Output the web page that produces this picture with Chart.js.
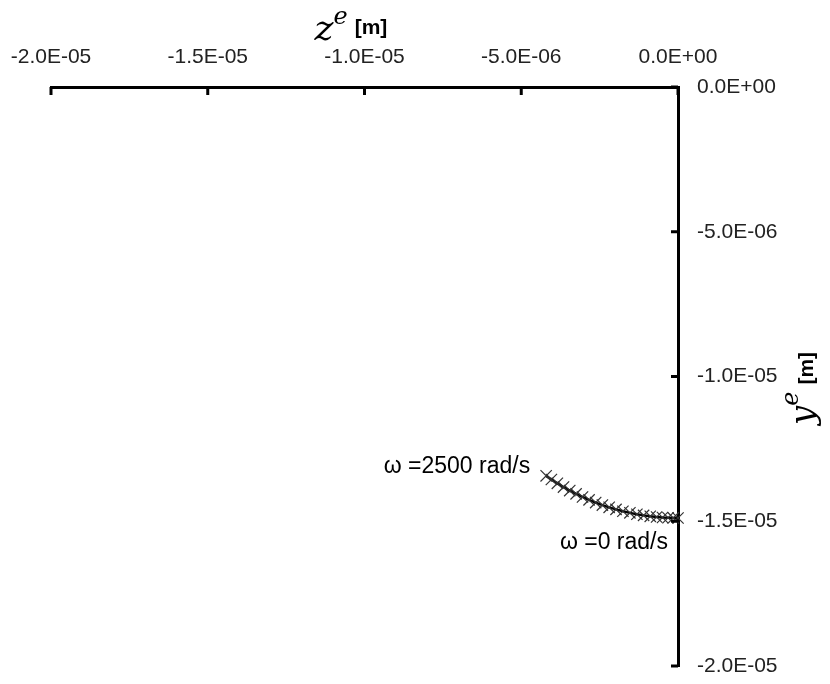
<!DOCTYPE html>
<html>
<head>
<meta charset="utf-8">
<script src="https://cdn.jsdelivr.net/npm/chart.js@4.4.0/dist/chart.umd.min.js"></script>
<style>
  html, body { margin: 0; padding: 0; background: #fff; }
  #grafico { display: block; }
</style>
</head>
<body>
<canvas id="grafico" width="830" height="684"></canvas>
<script>
// Trayectoria del centro elástico: z^e, y^e [m], desde ω = 0 hasta ω = 2500 rad/s
const zE = [0, -0.152e-6, -0.317e-6, -0.494e-6, -0.683e-6, -0.885e-6, -1.098e-6, -1.311e-6,
            -1.534e-6, -1.757e-6, -1.977e-6, -2.196e-6, -2.412e-6, -2.626e-6, -2.837e-6,
            -3.046e-6, -3.251e-6, -3.453e-6, -3.652e-6, -3.848e-6, -4.039e-6, -4.206e-6];
const yE = [-14.888e-6, -14.886e-6, -14.880e-6, -14.870e-6, -14.853e-6, -14.829e-6, -14.797e-6,
            -14.759e-6, -14.710e-6, -14.654e-6, -14.590e-6, -14.519e-6, -14.441e-6, -14.355e-6,
            -14.262e-6, -14.162e-6, -14.054e-6, -13.940e-6, -13.819e-6, -13.691e-6, -13.557e-6,
            -13.432e-6];

const xTickValues = [-2e-5, -1.5e-5, -1e-5, -5e-6, 0];
const xTickLabels = ['-2.0E-05', '-1.5E-05', '-1.0E-05', '-5.0E-06', '0.0E+00'];
const yTickValues = [0, -5e-6, -1e-5, -1.5e-5, -2e-5];
const yTickLabels = ['0.0E+00', '-5.0E-06', '-1.0E-05', '-1.5E-05', '-2.0E-05'];

const etiquetaInicio = 'ω =0 rad/s';
const etiquetaFin = 'ω =2500 rad/s';

const fuenteEjes = '"Liberation Sans", Arial, sans-serif';
const fuenteMat = '"DejaVu Serif", "Liberation Serif", serif';

// Dibuja un texto compuesto (letra cursiva, superíndice, unidades) desde el origen actual
function dibujarTitulo(ctx, partes) {
    let cursor = 0;
    partes.forEach(p => {
        ctx.font = p.font;
        ctx.fillText(p.text, cursor, p.dy);
        cursor += ctx.measureText(p.text).width + (p.gap || 0);
    });
}

const pluginEjes = {
    id: 'pluginEjes',
    afterDraw(chart) {
        const { ctx, chartArea, scales: { x, y } } = chart;
        ctx.save();

        // marcas de división hacia el interior del gráfico
        ctx.strokeStyle = '#000';
        ctx.lineWidth = 3;
        xTickValues.forEach(v => {
            const px = x.getPixelForValue(v);
            ctx.beginPath();
            ctx.moveTo(px, chartArea.top);
            ctx.lineTo(px, chartArea.top + 8);
            ctx.stroke();
        });
        yTickValues.forEach(v => {
            const py = y.getPixelForValue(v);
            ctx.beginPath();
            ctx.moveTo(chartArea.right, py);
            ctx.lineTo(chartArea.right - 7, py);
            ctx.stroke();
        });

        // etiquetas de los extremos de la trayectoria
        ctx.fillStyle = '#000';
        ctx.font = '23px ' + fuenteEjes;
        ctx.textBaseline = 'alphabetic';
        ctx.textAlign = 'right';
        const n = zE.length - 1;
        ctx.fillText(etiquetaFin, x.getPixelForValue(zE[n]) - 16, y.getPixelForValue(yE[n]) - 3);
        ctx.fillText(etiquetaInicio, x.getPixelForValue(zE[0]) - 10, y.getPixelForValue(yE[0]) + 31);

        // título del eje horizontal: z^e [m]
        ctx.textAlign = 'left';
        ctx.save();
        ctx.translate((chartArea.left + chartArea.right) / 2 - 50, 40);
        dibujarTitulo(ctx, [
            { text: 'z', font: 'italic 36px ' + fuenteMat, dy: 0 },
            { text: 'e', font: 'italic 24px ' + fuenteMat, dy: -16, gap: 7 },
            { text: '[m]', font: 'bold 21px ' + fuenteEjes, dy: -6 }
        ]);
        ctx.restore();

        // título del eje vertical: y^e [m], leído de abajo hacia arriba
        ctx.save();
        ctx.translate(814, 425);
        ctx.rotate(-Math.PI / 2);
        dibujarTitulo(ctx, [
            { text: 'y', font: 'italic 34px ' + fuenteMat, dy: 0 },
            { text: 'e', font: 'italic 24px ' + fuenteMat, dy: -16, gap: 7 },
            { text: '[m]', font: 'bold 21px ' + fuenteEjes, dy: -1 }
        ]);
        ctx.restore();

        ctx.restore();
    }
};

Chart.register(pluginEjes);

const puntos = zE.map((z, i) => ({ x: z, y: yE[i] }));

new Chart(document.getElementById('grafico').getContext('2d'), {
    type: 'scatter',
    data: {
        datasets: [{
            data: puntos,
            showLine: true,
            borderColor: '#000',
            borderWidth: 2.5,
            pointStyle: 'crossRot',
            pointRadius: 8,
            pointBorderColor: '#333',
            pointBorderWidth: 1.2,
            pointBackgroundColor: '#333',
            clip: false
        }]
    },
    options: {
        responsive: false,
        animation: false,
        devicePixelRatio: 1,
        layout: { padding: { left: 51, right: 0, top: 0, bottom: 18 } },
        plugins: { legend: { display: false }, tooltip: { enabled: false } },
        scales: {
            x: {
                type: 'linear',
                position: 'top',
                min: -2e-5,
                max: 0,
                afterFit(scale) {
                    scale.height = 87;
                    scale.paddingLeft = 0;
                    scale.paddingRight = 0;
                },
                afterBuildTicks(scale) { scale.ticks = xTickValues.map(v => ({ value: v })); },
                grid: { display: false, drawTicks: false },
                border: { display: true, color: '#000', width: 3 },
                ticks: {
                    padding: 17,
                    maxRotation: 0,
                    autoSkip: false,
                    color: '#222',
                    font: { size: 21, family: fuenteEjes },
                    callback: (v, i) => xTickLabels[i]
                }
            },
            y: {
                type: 'linear',
                position: 'right',
                min: -2e-5,
                max: 0,
                afterFit(scale) {
                    scale.width = 152;
                    scale.paddingTop = 0;
                    scale.paddingBottom = 0;
                },
                afterBuildTicks(scale) { scale.ticks = yTickValues.map(v => ({ value: v })); },
                grid: { display: false, drawTicks: false },
                border: { display: true, color: '#000', width: 3 },
                ticks: {
                    padding: 19,
                    autoSkip: false,
                    color: '#222',
                    font: { size: 21, family: fuenteEjes },
                    callback: (v, i) => yTickLabels[i]
                }
            }
        }
    }
});
</script>
</body>
</html>
